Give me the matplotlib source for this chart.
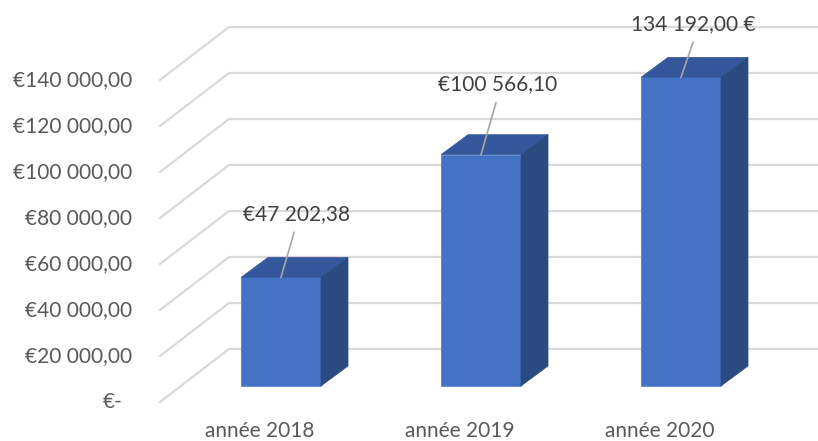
import matplotlib
matplotlib.use("Agg")
import matplotlib.pyplot as plt
import matplotlib.transforms as mtransforms
from matplotlib.patches import Polygon
import numpy as np

# ---- data ----
categories = ["année 2018", "année 2019", "année 2020"]
values = [47202.38, 100566.10, 134192.00]
value_labels = ["€47 202,38", "€100 566,10", "134 192,00 €"]
tick_values = [0, 20000, 40000, 60000, 80000, 100000, 120000, 140000]
tick_labels = ["€-", "€20 000,00", "€40 000,00", "€60 000,00", "€80 000,00",
               "€100 000,00", "€120 000,00", "€140 000,00"]

# ---- style ----
FRONT = "#4472C4"
TOP = "#34589B"
SIDE = "#2B4A80"
GRID = "#D9D9D9"
AXTXT = "#595959"
LBLTXT = "#404040"
FONT = ["Lato", "DejaVu Sans"]

W, H, DPI = 818, 441, 100
fig = plt.figure(figsize=(W / DPI, H / DPI), dpi=DPI)
ax = fig.add_axes([0, 0, 1, 1])
ax.set_axis_off()
# mapping: 200 px per category, 0.0023 px per value unit
ax.set_xlim(-281 / 200, (W - 281) / 200)
ax.set_ylim(-(H - 386) / 0.0023, 386 / 0.0023)

def off(dx, dy):
    return mtransforms.offset_copy(ax.transData, fig=fig, x=dx, y=dy, units="dots")

front_edge = off(-21, -16)
back_wall = off(48, 37)
inv = ax.transData.inverted()

# gridlines (floor/wall perspective)
x_left = -0.5
x_right = 3.0
for v in tick_values:
    p1 = front_edge.transform((x_left, v))
    p2 = back_wall.transform((x_left, v))
    p3 = back_wall.transform((x_right, v))
    pts = inv.transform(np.array([p1, p2, p3]))
    ax.plot(pts[:, 0], pts[:, 1], color=GRID, lw=1.6, zorder=1)

# y tick labels at front edge
for v, lab in zip(tick_values, tick_labels):
    extra = -10 if lab == "€-" else 0
    ax.text(x_left, v, lab, transform=off(-49 + extra, -16), ha="right", va="center",
            fontsize=15, color=AXTXT, family=FONT)

# bars
bw = 0.4
ddx, ddy = 27, 20  # bar depth in dots
for i, v in enumerate(values):
    x0, x1 = i - bw / 2, i + bw / 2
    front = Polygon([(x0, 0), (x1, 0), (x1, v), (x0, v)], closed=True,
                    facecolor=FRONT, edgecolor="#5B86D0", lw=0.6, zorder=3)
    ax.add_patch(front)
    d = off(ddx, ddy)
    a = ax.transData.transform([(x0, v), (x1, v)])
    b = d.transform([(x1, v), (x0, v)])
    top = Polygon(inv.transform(np.vstack([a, b])), closed=True,
                  facecolor=TOP, edgecolor=TOP, lw=0.5, zorder=3)
    ax.add_patch(top)
    a = ax.transData.transform([(x1, 0), (x1, v)])
    b = d.transform([(x1, v), (x1, 0)])
    side = Polygon(inv.transform(np.vstack([a, b])), closed=True,
                   facecolor=SIDE, edgecolor=SIDE, lw=0.5, zorder=3)
    ax.add_patch(side)

# data labels with leader lines
label_off = [(15, 63), (17, 71), (12, 53)]
leader_start = [(13, 45), (15, 52), (12, 35)]
for i, (v, lab) in enumerate(zip(values, value_labels)):
    lx, ly = label_off[i]
    ax.text(i, v, lab, transform=off(lx, ly), ha="center", va="center",
            fontsize=15, color=LBLTXT, family=FONT, zorder=5)
    sx, sy = leader_start[i]
    p0 = ax.transData.transform((i, v))
    p1 = off(sx, sy).transform((i, v))
    pts = inv.transform(np.array([p0, p1]))
    ax.plot(pts[:, 0], pts[:, 1], color="#A6A6A6", lw=1.2, zorder=4)

# category labels
for i, c in enumerate(categories):
    ax.text(i, 0, c, transform=off(-21, -45), ha="center", va="center",
            fontsize=15, color=AXTXT, family=FONT)

fig.savefig("out.png", dpi=DPI)
